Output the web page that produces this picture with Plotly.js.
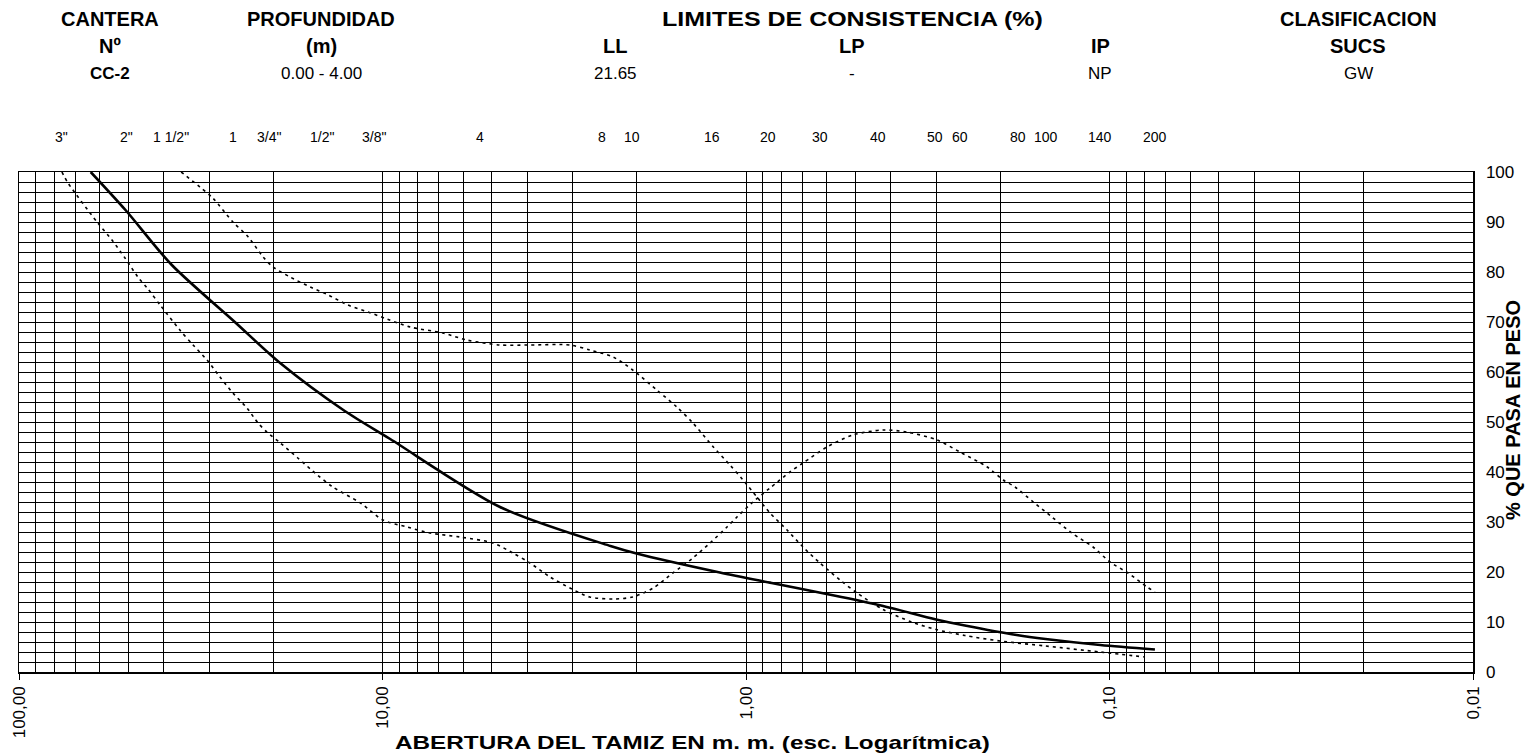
<!DOCTYPE html>
<html>
<head>
<meta charset="utf-8">
<script src="https://cdn.plot.ly/plotly-3.0.1.min.js"></script>
<style>
  html, body { margin: 0; padding: 0; background: #fff; }
  #chart { width: 1525px; height: 755px; }
</style>
</head>
<body>
<div id="chart"></div>
<script>
// ---------- DATA ----------
const sieveLabels = ['3"', '2"', '1 1/2"', '1', '3/4"', '1/2"', '3/8"', '4', '8', '10', '16', '20', '30', '40', '50', '60', '80', '100', '140', '200'];
const sieveMm = [76.2, 50.8, 38.1, 25.4, 19.05, 12.7, 9.525, 4.75, 2.36, 2.0, 1.18, 0.85, 0.6, 0.425, 0.3, 0.25, 0.18, 0.15, 0.106, 0.075];

const decadeVals = [100, 10, 1, 0.1, 0.01];
const decadeText = ['100,00', '10,00', '1,00', '0,10', '0,01'];
const yTickVals = [0, 10, 20, 30, 40, 50, 60, 70, 80, 90, 100];

// Sample gradation curve (solid)
const sampleMm   = [63.5, 50.8, 38.1, 25.4, 19.05, 12.7, 9.525, 4.75, 2.36, 2.0, 1.18, 0.85, 0.6, 0.425, 0.3, 0.25, 0.18, 0.15, 0.106, 0.075];
const samplePass = [100, 92.3, 81.5, 69.9, 61.7, 52.2, 46.6, 33.0, 25.2, 23.7, 19.9, 17.8, 15.6, 13.3, 10.5, 9.3, 7.4, 6.6, 5.4, 4.5];

// Upper dotted envelope
const upperMm   = [35.8, 31.8, 29.3, 25.8, 23.4, 21.3, 20.0, 17.96, 15.8, 14.1, 12.45, 10.96, 9.72, 8.40, 6.82, 5.86, 4.75, 3.93, 3.05, 2.69, 2.32, 2.05, 1.76, 1.55, 1.40, 1.23, 1.107, 1.019, 0.933, 0.859, 0.771, 0.697, 0.626, 0.551, 0.495, 0.42, 0.35, 0.30, 0.25, 0.20, 0.15, 0.106, 0.08];
const upperPass = [100, 97, 94.8, 90, 87, 83, 81, 79, 77, 75.4, 73.4, 72, 70.6, 69, 67.8, 66.4, 65.4, 65.4, 65.4, 64.4, 63, 60.4, 56.4, 53, 49.8, 45, 41.4, 38.4, 35, 31.8, 28.4, 25, 21.8, 18.4, 15.8, 12.5, 10, 8.5, 7.3, 6.2, 5.2, 4.0, 3.0];

// Lower dotted envelope
const lowerMm   = [76.2, 73.3, 61.0, 55.5, 51.1, 47.1, 44.4, 40.9, 36.1, 33.2, 30.4, 28.0, 25.8, 23.6, 22.0, 20.8, 19.1, 17.1, 15.1, 13.7, 11.5, 9.97, 8.56, 7.40, 6.12, 4.97, 4.38, 3.93, 3.46, 3.05, 2.69, 2.32, 2.05, 1.80, 1.59, 1.40, 1.256, 1.128, 1.059, 0.957, 0.859, 0.757, 0.697, 0.599, 0.508, 0.420, 0.361, 0.298, 0.258, 0.217, 0.196, 0.182, 0.162, 0.144, 0.127, 0.111, 0.0997, 0.0889, 0.0788, 0.075];
const lowerPass = [100, 97.8, 90, 86.4, 82.8, 79, 76.8, 73.4, 68.4, 65.4, 62.4, 59, 55.8, 52.8, 49.8, 48, 45.8, 42.8, 39.4, 37, 33.8, 30.4, 29, 27.8, 27, 25.8, 23.8, 21.8, 19, 16.8, 15, 14.6, 15, 16.8, 19.8, 22.8, 25.8, 29, 31, 34, 36.8, 40, 41.8, 45, 47.4, 48.4, 48, 46.4, 44, 41, 38.4, 37, 34, 31, 27.8, 25, 22, 19.8, 17, 16];

// Header texts
const headerTitles = ['CANTERA', 'PROFUNDIDAD', '', 'LIMITES DE CONSISTENCIA (%)', '', 'CLASIFICACION'];
const headerSubs   = ['Nº', '(m)', 'LL', 'LP', 'IP', 'SUCS'];
const headerVals   = ['CC-2', '0.00 - 4.00', '21.65', '-', 'NP', 'GW'];

const xTitle = 'ABERTURA DEL TAMIZ EN m. m. (esc. Logarítmica)';
const yTitle = '% QUE PASA EN PESO';

// ---------- LAYOUT (positions / styles) ----------
const headerX = [110, 321, 615, 852, 1100, 1358];          // pixel centres of header columns
const headerValBold = [true, false, false, false, false, false];
const headerTitleStretch = [1, 1, 1, 1.25, 1, 1];           // horizontal text widening
const sieveNudge = [0, 1, 0, -2, -12, -23, -16, -20, -8, -5, -8, -4, -7, -3, -1, -5, 1, 1, 0, 0]; // px
const xTitleStretch = 1.35;

const W = 1525, H = 755;
const M = {l: 19, r: 52, t: 172, b: 83};
const PW = W - M.l - M.r, PH = H - M.t - M.b;
const px2x = p => (p - M.l) / PW;
const px2y = p => (H - M.b - p) / PH;

// log grid positions (1..9 within each decade)
const gridVals = [];
[0.01, 0.1, 1, 10].forEach(d => { for (let k = 1; k <= 9; k++) gridVals.push(+(d * k).toPrecision(3)); });
gridVals.push(100);

const FONT = 'Liberation Sans, Arial, sans-serif';
const dotted = {color: '#000', width: 1.6, dash: '3px,4px', shape: 'spline', smoothing: 0.8};

const traces = [
  {x: lowerMm, y: lowerPass, mode: 'lines', line: dotted, hoverinfo: 'skip'},
  {x: upperMm, y: upperPass, mode: 'lines', line: dotted, hoverinfo: 'skip'},
  {x: sampleMm, y: samplePass, mode: 'lines', line: {color: '#000', width: 2.6, shape: 'spline', smoothing: 0.8}, hoverinfo: 'skip'}
];

const ann = (text, x, y, size, extra) => Object.assign({
  text: text, x: x, y: y, xref: 'paper', yref: 'paper', showarrow: false,
  xanchor: 'center', yanchor: 'middle', font: {family: FONT, size: size, color: '#000'}
}, extra || {});

const annotations = [];
const stretchIdx = {};   // annotation index -> horizontal stretch
headerX.forEach((hx, i) => {
  const x = px2x(hx);
  if (headerTitles[i]) {
    if (headerTitleStretch[i] !== 1) stretchIdx[annotations.length] = headerTitleStretch[i];
    annotations.push(ann('<b>' + headerTitles[i] + '</b>', x, px2y(19), 20));
  }
  annotations.push(ann('<b>' + headerSubs[i] + '</b>', x, px2y(46), 20));
  annotations.push(ann(headerValBold[i] ? '<b>' + headerVals[i] + '</b>' : headerVals[i], x, px2y(73), 17));
});
sieveLabels.forEach((s, i) => {
  annotations.push(ann(s, Math.log10(sieveMm[i]), px2y(137), 14, {xref: 'x', xshift: sieveNudge[i]}));
});
stretchIdx[annotations.length] = xTitleStretch;
annotations.push(ann('<b>' + xTitle + '</b>', px2x(692), px2y(743), 18));
annotations.push(ann('<b>' + yTitle + '</b>', px2x(1513), px2y(410), 20, {textangle: -90}));

const layout = {
  width: W, height: H,
  margin: M,
  paper_bgcolor: '#fff', plot_bgcolor: '#fff',
  showlegend: false,
  font: {family: FONT, color: '#000'},
  xaxis: {
    type: 'log', range: [2, -2],
    tickmode: 'array', tickvals: decadeVals, ticktext: decadeText,
    tickangle: -90, tickfont: {family: FONT, size: 17, color: '#000'},
    ticks: 'outside', ticklen: 6, tickcolor: '#000', tickwidth: 1,
    showgrid: true, gridcolor: '#000', gridwidth: 1,
    minor: {tickmode: 'array', tickvals: gridVals, showgrid: true, gridcolor: '#000', gridwidth: 1, ticks: ''},
    showline: true, linecolor: '#000', linewidth: 1.5, mirror: true,
    zeroline: false, automargin: false, fixedrange: true
  },
  yaxis: {
    side: 'right', range: [0, 100],
    tickmode: 'array', tickvals: yTickVals,
    tickfont: {family: FONT, size: 17, color: '#000'},
    ticks: 'outside', ticklen: 8, tickcolor: 'rgba(0,0,0,0)',
    showgrid: true, gridcolor: '#000', gridwidth: 1,
    minor: {dtick: 2, showgrid: true, gridcolor: '#000', gridwidth: 1, ticks: ''},
    showline: true, linecolor: '#000', linewidth: 1.5, mirror: true,
    zeroline: false, automargin: false, fixedrange: true
  },
  annotations: annotations
};

Plotly.newPlot('chart', traces, layout, {staticPlot: true, displayModeBar: false}).then(gd => {
  // widen selected annotation texts horizontally around their own centre
  gd.querySelectorAll('g.annotation').forEach(g => {
    const idx = +g.getAttribute('data-index');
    const s = stretchIdx[idx];
    if (!s) return;
    const t = g.querySelector('text.annotation-text');
    if (!t) return;
    const bb = t.getBBox();
    const cx = bb.x + bb.width / 2;
    const prev = t.getAttribute('transform') || '';
    t.setAttribute('transform', prev + ' translate(' + cx + ',0) scale(' + s + ',1) translate(' + (-cx) + ',0)');
  });
});
</script>
</body>
</html>
